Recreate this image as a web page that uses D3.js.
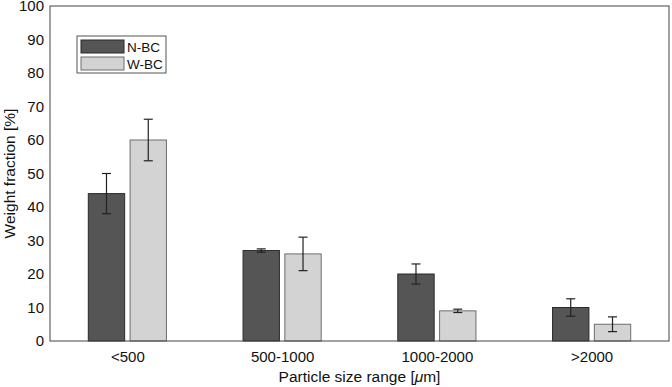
<!DOCTYPE html>
<html>
<head>
<meta charset="utf-8">
<script src="https://cdn.jsdelivr.net/npm/d3@7"></script>
<style>
  body { margin: 0; background: #fff; }
  svg { font-family: Arial, "Liberation Sans", sans-serif; }
</style>
</head>
<body>
<div id="chart"></div>
<script>
const categories = ["<500", "500-1000", "1000-2000", ">2000"];
const seriesNames = ["N-BC", "W-BC"];
const nbcValues = [44, 27, 20, 10];
const nbcErrors = [6, 0.5, 3, 2.6];
const wbcValues = [60, 26, 9, 5];
const wbcErrors = [6.2, 5, 0.5, 2.2];
const yTicks = [0, 10, 20, 30, 40, 50, 60, 70, 80, 90, 100];

const width = 672, height = 387;
const margin = { top: 6, right: 3, bottom: 46, left: 50 };
const innerWidth = width - margin.left - margin.right;
const innerHeight = height - margin.top - margin.bottom;

const svg = d3.select("#chart").append("svg")
    .attr("width", width)
    .attr("height", height);

const chart = svg.append("g")
    .attr("transform", `translate(${margin.left}, ${margin.top})`);

// scales
const x = d3.scaleLinear().domain([0.5, categories.length + 0.5]).range([0, innerWidth]);
const y = d3.scaleLinear().domain([0, 100]).range([innerHeight, 0]);
const barW = x(1.235) - x(1);
const offset = x(1.135) - x(1);

const color = d3.scaleOrdinal().domain(seriesNames).range(["#555555", "#d3d3d3"]);
const strokeC = d3.scaleOrdinal().domain(seriesNames).range(["#2a2a2a", "#6e6e6e"]);

const rows = [];
categories.forEach((c, i) => {
    rows.push({ cat: c, idx: i + 1, key: "N-BC", value: nbcValues[i], err: nbcErrors[i], dx: -offset });
    rows.push({ cat: c, idx: i + 1, key: "W-BC", value: wbcValues[i], err: wbcErrors[i], dx: offset });
});

// bars
chart.selectAll("rect.bar")
    .data(rows)
    .enter()
    .append("rect")
    .attr("class", "bar")
    .attr("x", d => x(d.idx) + d.dx - barW / 2)
    .attr("y", d => y(d.value))
    .attr("width", barW)
    .attr("height", d => y(0) - y(d.value))
    .attr("fill", d => color(d.key))
    .attr("stroke", d => strokeC(d.key))
    .attr("stroke-width", 1);

// error bars
const eb = chart.selectAll("g.err")
    .data(rows)
    .enter()
    .append("g")
    .attr("stroke", "#222")
    .attr("stroke-width", 1.2);

eb.append("line")
    .attr("x1", d => x(d.idx) + d.dx)
    .attr("x2", d => x(d.idx) + d.dx)
    .attr("y1", d => y(d.value + d.err))
    .attr("y2", d => y(d.value - d.err));
eb.append("line")
    .attr("x1", d => x(d.idx) + d.dx - 4.5)
    .attr("x2", d => x(d.idx) + d.dx + 4.5)
    .attr("y1", d => y(d.value + d.err))
    .attr("y2", d => y(d.value + d.err));
eb.append("line")
    .attr("x1", d => x(d.idx) + d.dx - 4.5)
    .attr("x2", d => x(d.idx) + d.dx + 4.5)
    .attr("y1", d => y(d.value - d.err))
    .attr("y2", d => y(d.value - d.err));

// axes box
chart.append("rect")
    .attr("x", 0).attr("y", 0)
    .attr("width", innerWidth).attr("height", innerHeight)
    .attr("fill", "none")
    .attr("stroke", "#444")
    .attr("stroke-width", 1);

const yAxis = chart.append("g")
    .call(d3.axisLeft(y).tickValues(yTicks).tickSize(0).tickPadding(6));
yAxis.select(".domain").remove();
yAxis.selectAll("text").attr("font-size", 15).attr("fill", "#111").attr("font-family", "Arial, 'Liberation Sans', sans-serif");

const xAxis = chart.append("g")
    .attr("transform", `translate(0, ${innerHeight})`)
    .call(d3.axisBottom(x).tickValues(categories.map((c, i) => i + 1))
        .tickFormat((d, i) => categories[i]).tickSize(0).tickPadding(10));
xAxis.select(".domain").remove();
xAxis.selectAll("text").attr("font-size", 15).attr("fill", "#111").attr("font-family", "Arial, 'Liberation Sans', sans-serif");

// axis titles
const xt = svg.append("text")
    .attr("x", margin.left + innerWidth / 2)
    .attr("y", 382)
    .attr("text-anchor", "middle")
    .attr("font-size", 15.5)
    .attr("fill", "#111");
xt.append("tspan").text("Particle size range [");
xt.append("tspan").attr("font-style", "italic").text("\u03bc");
xt.append("tspan").text("m]");

svg.append("text")
    .attr("transform", `translate(15, ${margin.top + innerHeight / 2}) rotate(-90)`)
    .attr("text-anchor", "middle")
    .attr("font-size", 15.5)
    .attr("fill", "#111")
    .text("Weight fraction [%]");

// legend
const legend = svg.append("g").attr("transform", "translate(77, 36)");
legend.append("rect")
    .attr("width", 89).attr("height", 37)
    .attr("fill", "#fff").attr("stroke", "#555").attr("stroke-width", 1);
seriesNames.forEach((key, i) => {
    const g = legend.append("g").attr("transform", `translate(4, ${4 + i * 17})`);
    g.append("rect")
        .attr("width", 43).attr("height", 13)
        .attr("fill", color(key)).attr("stroke", strokeC(key));
    g.append("text")
        .attr("x", 46).attr("y", 11.5)
        .attr("font-size", 13.5)
        .attr("fill", "#111")
        .text(key);
});
</script>
</body>
</html>
